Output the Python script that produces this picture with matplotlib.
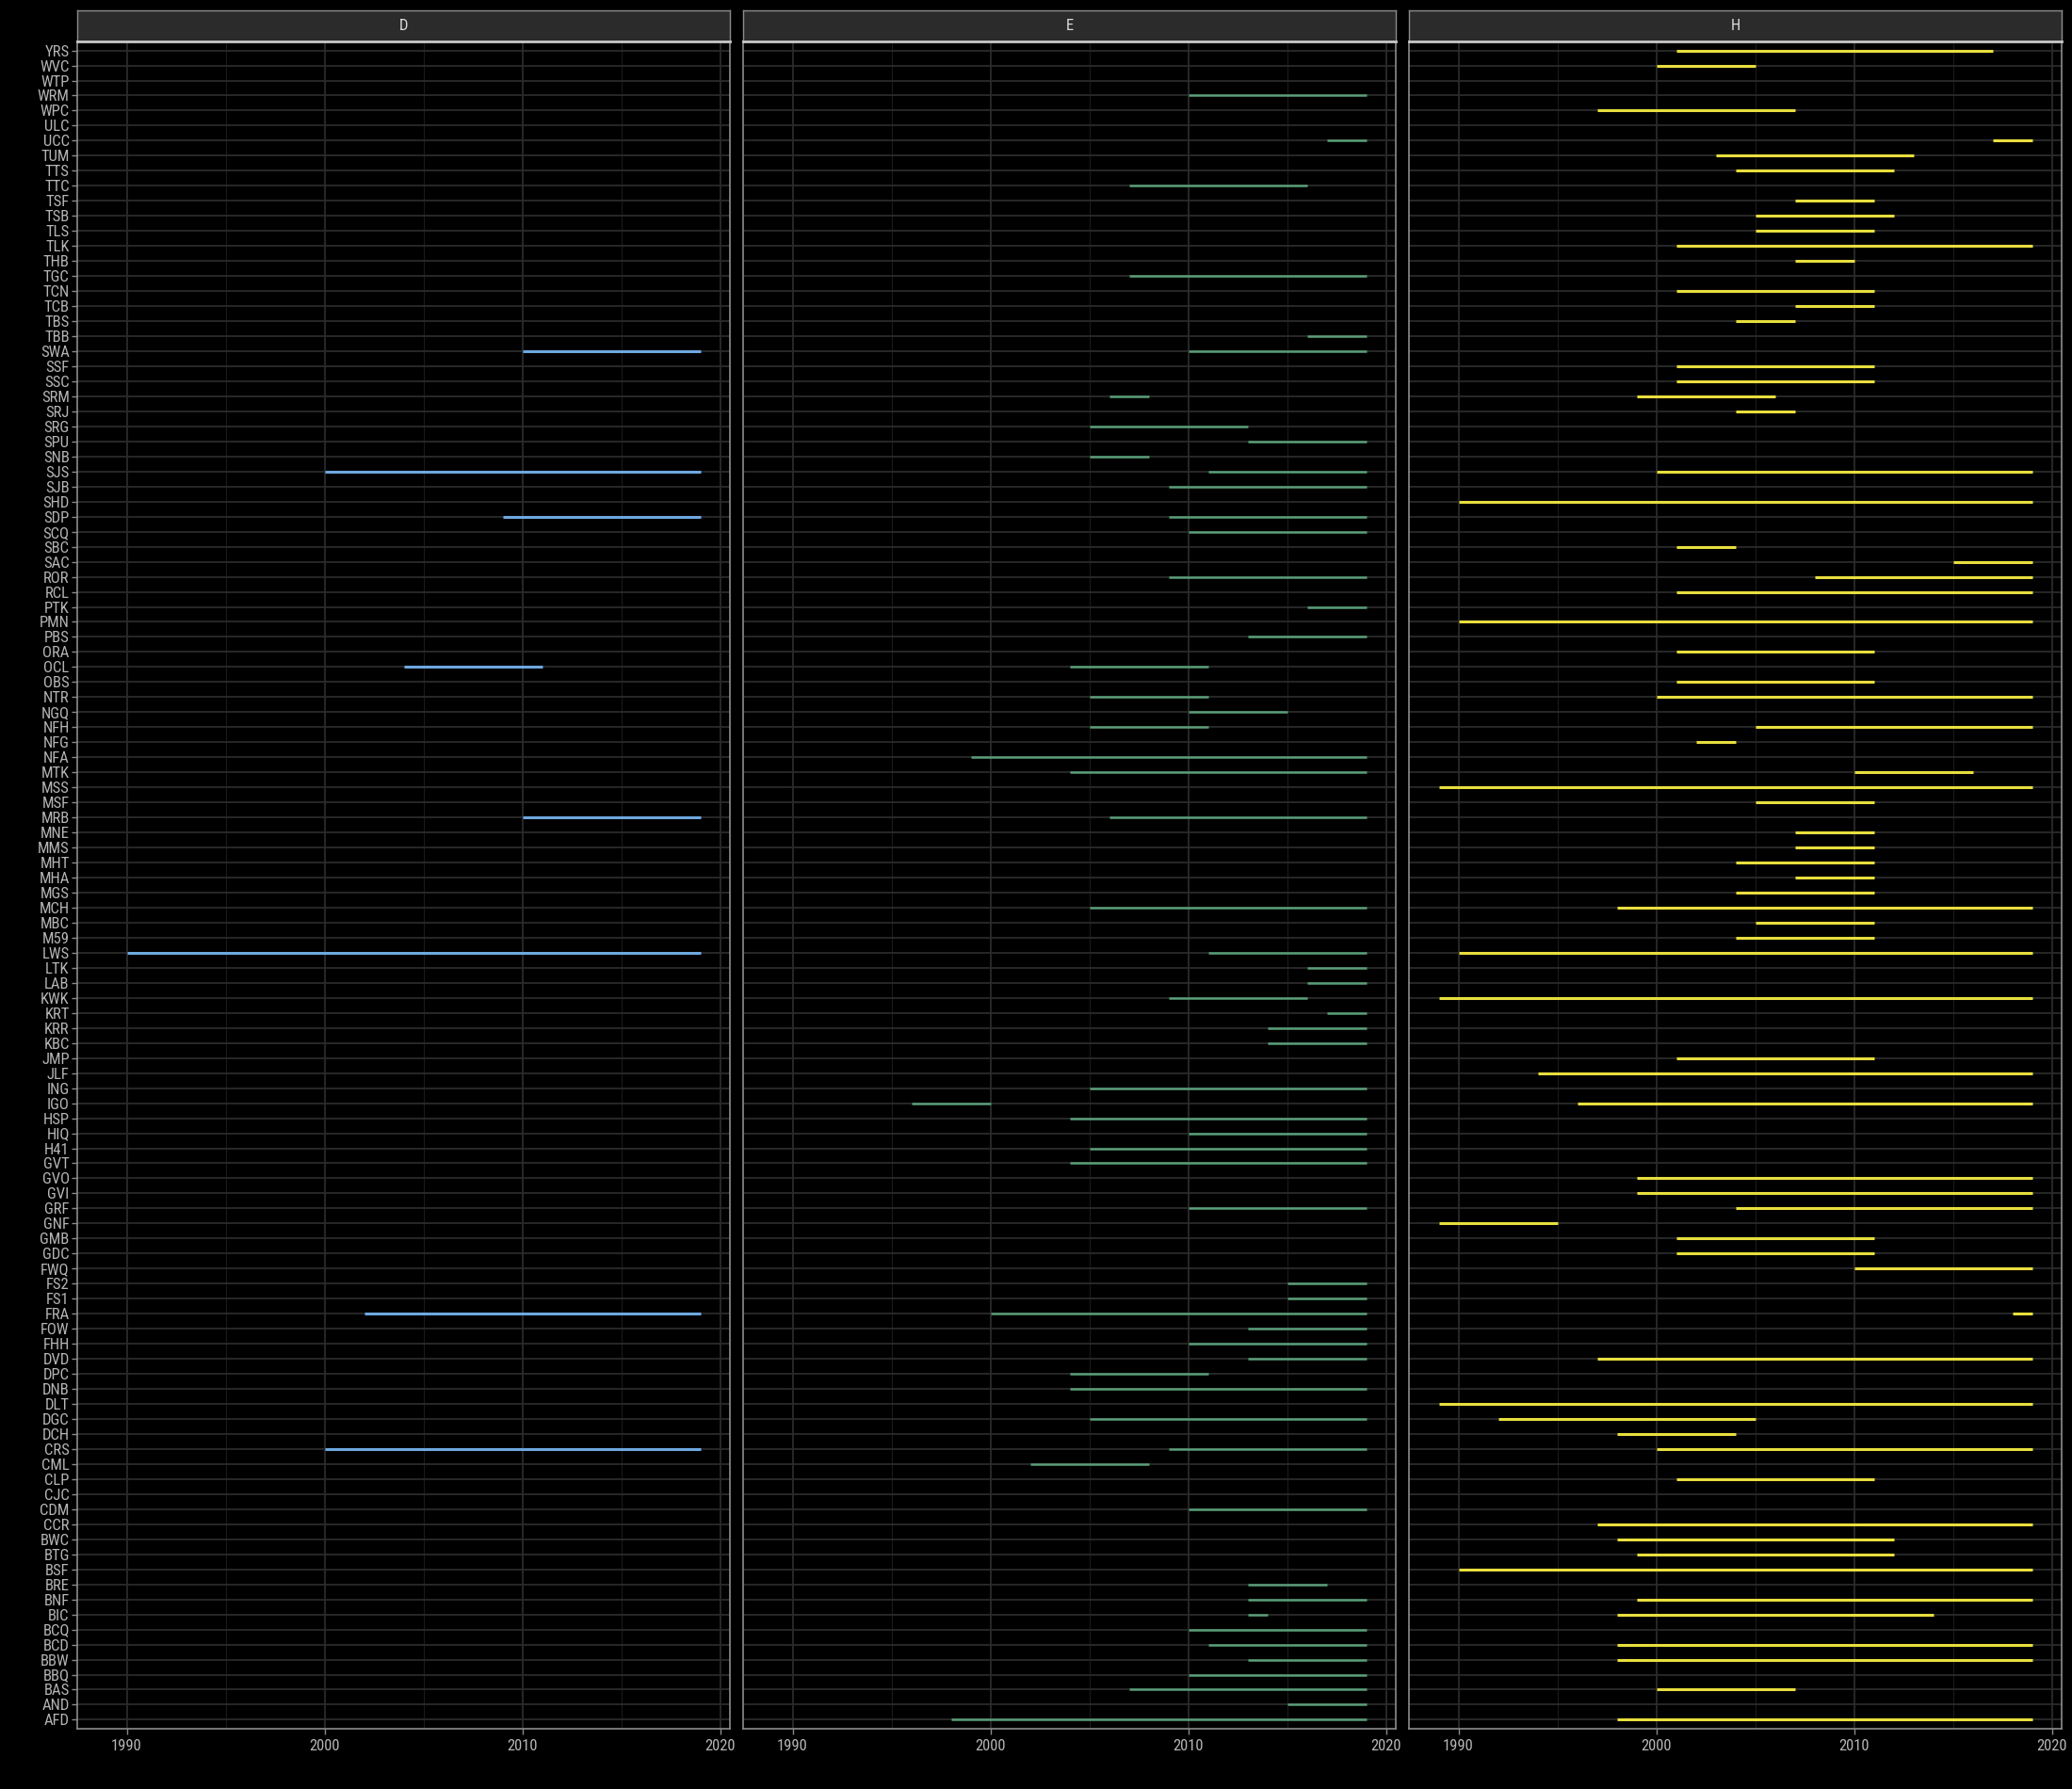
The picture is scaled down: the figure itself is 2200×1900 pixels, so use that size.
import numpy as np
import matplotlib
matplotlib.use("Agg")
import matplotlib.pyplot as plt
from matplotlib import font_manager

# === Sites (axis order, bottom to top is alphabetical) ===
sites = ["AFD", "AND", "BAS", "BBQ", "BBW", "BCD", "BCQ", "BIC", "BNF", "BRE",
         "BSF", "BTG", "BWC", "CCR", "CDM", "CJC", "CLP", "CML", "CRS", "DCH",
         "DGC", "DLT", "DNB", "DPC", "DVD", "FHH", "FOW", "FRA", "FS1", "FS2",
         "FWQ", "GDC", "GMB", "GNF", "GRF", "GVI", "GVO", "GVT", "H41", "HIQ",
         "HSP", "IGO", "ING", "JLF", "JMP", "KBC", "KRR", "KRT", "KWK", "LAB",
         "LTK", "LWS", "M59", "MBC", "MCH", "MGS", "MHA", "MHT", "MMS", "MNE",
         "MRB", "MSF", "MSS", "MTK", "NFA", "NFG", "NFH", "NGQ", "NTR", "OBS",
         "OCL", "ORA", "PBS", "PMN", "PTK", "RCL", "ROR", "SAC", "SBC", "SCQ",
         "SDP", "SHD", "SJB", "SJS", "SNB", "SPU", "SRG", "SRJ", "SRM", "SSC",
         "SSF", "SWA", "TBB", "TBS", "TCB", "TCN", "TGC", "THB", "TLK", "TLS",
         "TSB", "TSF", "TTC", "TTS", "TUM", "UCC", "ULC", "WPC", "WRM", "WTP",
         "WVC", "YRS"]

# === Panel D ===
d_sites = ["SWA", "SJS", "SDP", "OCL", "MRB", "LWS", "FRA", "CRS"]
d_start = [2010, 2000, 2009, 2004, 2010, 1990, 2002, 2000]
d_end = [2019, 2019, 2019, 2011, 2019, 2019, 2019, 2019]

# === Panel E ===
e_sites = ["WRM", "UCC", "TTC", "TGC", "TBB", "SWA", "SRM", "SRG", "SPU", "SNB",
           "SJS", "SJB", "SDP", "SCQ", "ROR", "PTK", "PBS", "OCL", "NTR", "NGQ",
           "NFH", "NFA", "MTK", "MRB", "MCH", "LWS", "LTK", "LAB", "KWK", "KRT",
           "KRR", "KBC", "ING", "IGO", "HSP", "HIQ", "H41", "GVT", "GRF", "FS2",
           "FS1", "FRA", "FOW", "FHH", "DVD", "DPC", "DNB", "DGC", "CRS", "CML",
           "CDM", "BRE", "BNF", "BIC", "BCQ", "BCD", "BBW", "BBQ", "BAS", "AND",
           "AFD"]
e_start = [2010, 2017, 2007, 2007, 2016, 2010, 2006, 2005, 2013, 2005,
           2011, 2009, 2009, 2010, 2009, 2016, 2013, 2004, 2005, 2010,
           2005, 1999, 2004, 2006, 2005, 2011, 2016, 2016, 2009, 2017,
           2014, 2014, 2005, 1996, 2004, 2010, 2005, 2004, 2010, 2015,
           2015, 2000, 2013, 2010, 2013, 2004, 2004, 2005, 2009, 2002,
           2010, 2013, 2013, 2013, 2010, 2011, 2013, 2010, 2007, 2015,
           1998]
e_end = [2019, 2019, 2016, 2019, 2019, 2019, 2008, 2013, 2019, 2008,
         2019, 2019, 2019, 2019, 2019, 2019, 2019, 2011, 2011, 2015,
         2011, 2019, 2019, 2019, 2019, 2019, 2019, 2019, 2016, 2019,
         2019, 2019, 2019, 2000, 2019, 2019, 2019, 2019, 2019, 2019,
         2019, 2019, 2019, 2019, 2019, 2011, 2019, 2019, 2019, 2008,
         2019, 2017, 2019, 2014, 2019, 2019, 2019, 2019, 2019, 2019,
         2019]

# === Panel H ===
h_sites = ["YRS", "WVC", "WPC", "UCC", "TUM", "TTS", "TSF", "TSB", "TLS", "TLK",
           "THB", "TCN", "TCB", "TBS", "SSF", "SSC", "SRM", "SRJ", "SJS", "SHD",
           "SBC", "SAC", "ROR", "RCL", "PMN", "ORA", "OBS", "NTR", "NFH", "NFG",
           "MTK", "MSS", "MSF", "MNE", "MMS", "MHT", "MHA", "MGS", "MCH", "MBC",
           "M59", "LWS", "KWK", "JMP", "JLF", "IGO", "GVO", "GVI", "GRF", "GNF",
           "GMB", "GDC", "FWQ", "FRA", "DVD", "DLT", "DGC", "DCH", "CRS", "CLP",
           "CCR", "BWC", "BTG", "BSF", "BNF", "BIC", "BCD", "BBW", "BAS", "AFD"]
h_start = [2001, 2000, 1997, 2017, 2003, 2004, 2007, 2005, 2005, 2001,
           2007, 2001, 2007, 2004, 2001, 2001, 1999, 2004, 2000, 1990,
           2001, 2015, 2008, 2001, 1990, 2001, 2001, 2000, 2005, 2002,
           2010, 1989, 2005, 2007, 2007, 2004, 2007, 2004, 1998, 2005,
           2004, 1990, 1989, 2001, 1994, 1996, 1999, 1999, 2004, 1989,
           2001, 2001, 2010, 2018, 1997, 1989, 1992, 1998, 2000, 2001,
           1997, 1998, 1999, 1990, 1999, 1998, 1998, 1998, 2000, 1998]
h_end = [2017, 2005, 2007, 2019, 2013, 2012, 2011, 2012, 2011, 2019,
         2010, 2011, 2011, 2007, 2011, 2011, 2006, 2007, 2019, 2019,
         2004, 2019, 2019, 2019, 2019, 2011, 2011, 2019, 2019, 2004,
         2016, 2019, 2011, 2011, 2011, 2011, 2011, 2011, 2019, 2011,
         2011, 2019, 2019, 2011, 2019, 2019, 2019, 2019, 2019, 1995,
         2011, 2011, 2019, 2019, 2019, 2019, 2005, 2004, 2019, 2011,
         2019, 2012, 2012, 2019, 2019, 2014, 2019, 2019, 2007, 2019]

panel_names = ["D", "E", "H"]
panel_colors = ["#6EA8E0", "#5A9F79", "#E8DE3E"]
panel_widths = [2.2, 1.8, 2.2]

# pick a condensed font if there is one
avail = {f.name for f in font_manager.fontManager.ttflist}
font = "DejaVu Sans"
for cand in ["Roboto Condensed", "Liberation Sans Narrow", "Roboto"]:
    if cand in avail:
        font = cand
        break
plt.rcParams["font.family"] = [font, "DejaVu Sans"]
condensed = font != "Roboto"

W, H = 2200, 1900
fig = plt.figure(figsize=(W / 100, H / 100), dpi=100, facecolor="#000000")

panel_x = [(82, 775), (789, 1482), (1496, 2189)]
top_px, bottom_px = 44, 1836
strip_top = 11

ypos = {s: i for i, s in enumerate(sites)}
data = [(d_sites, d_start, d_end), (e_sites, e_start, e_end), (h_sites, h_start, h_end)]
fs = 12 if condensed else 11

for k, (x0, x1) in enumerate(panel_x):
    ax = fig.add_axes([x0 / W, 1 - bottom_px / H, (x1 - x0) / W, (bottom_px - top_px) / H])
    ax.set_facecolor("#000000")
    ax.set_xlim(1987.5, 2020.5)
    ax.set_ylim(-0.6, len(sites) - 1 + 0.6)

    # grid
    for xv in [1995, 2005, 2015]:
        ax.axvline(xv, color="#1b1b1b", lw=0.8, zorder=0)
    for xv in [1990, 2000, 2010, 2020]:
        ax.axvline(xv, color="#2b2b2b", lw=1.3, zorder=0)
    for yv in range(len(sites)):
        ax.axhline(yv, color="#2b2b2b", lw=1.3, zorder=0)

    s_list, st, en = data[k]
    ys = [ypos[s] for s in s_list]
    ax.hlines(ys, st, en, color=panel_colors[k], lw=panel_widths[k], zorder=3)

    ax.set_xticks([1990, 2000, 2010, 2020])
    ax.set_xticklabels(["1990", "2000", "2010", "2020"])
    ax.tick_params(axis="x", colors="#8a8a8a", labelcolor="#b5b5b5", length=4,
                   width=1.0, labelsize=fs, pad=4)
    ax.set_yticks(range(len(sites)))
    if k == 0:
        ax.set_yticklabels(sites)
        ax.tick_params(axis="y", colors="#8a8a8a", labelcolor="#b5b5b5", length=4,
                       width=1.0, labelsize=fs, pad=2)
    else:
        ax.set_yticklabels([])
        ax.tick_params(axis="y", length=0)
    for sp in ax.spines.values():
        sp.set_color("#8c8c8c")
        sp.set_linewidth(1.2)

    # facet strip
    sax = fig.add_axes([x0 / W, 1 - top_px / H, (x1 - x0) / W, (top_px - strip_top) / H])
    sax.set_facecolor("#2b2b2b")
    sax.set_xticks([])
    sax.set_yticks([])
    for sp in sax.spines.values():
        sp.set_color("#8c8c8c")
        sp.set_linewidth(1.0)
    sax.spines["bottom"].set_color("#c8c8c8")
    sax.spines["bottom"].set_linewidth(2.0)
    sax.text(0.5, 0.5, panel_names[k], color="#dcdcdc", fontsize=fs,
             ha="center", va="center", transform=sax.transAxes)

fig.savefig("out.png", dpi=100, facecolor=fig.get_facecolor())
